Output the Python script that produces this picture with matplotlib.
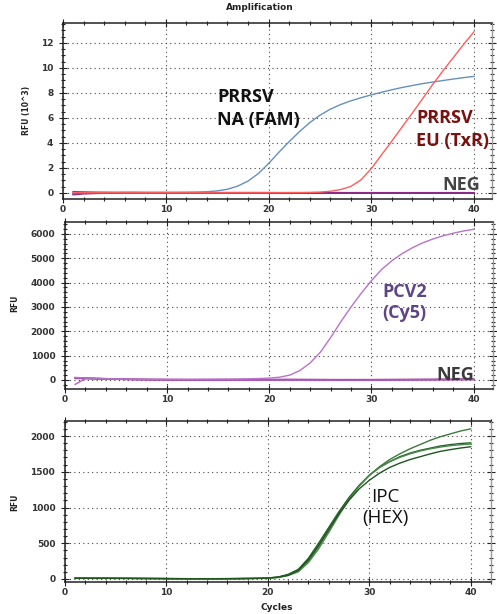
import numpy as np
import matplotlib
matplotlib.use("Agg")
import matplotlib.pyplot as plt
from matplotlib.ticker import MultipleLocator

#-----------------------------------------------
# data
#-----------------------------------------------

cycles = list(range(1, 41))

# panel 1, RFU in units of 10^3
fam = [0.05, 0.05, 0.05, 0.05, 0.05, 0.05, 0.05, 0.05, 0.05, 0.05,
       0.05, 0.06, 0.07, 0.10, 0.17, 0.30, 0.55, 0.95, 1.55, 2.35,
       3.25, 4.10, 4.90, 5.62, 6.22, 6.70, 7.07, 7.37, 7.62, 7.85,
       8.06, 8.26, 8.44, 8.60, 8.75, 8.88, 9.00, 9.12, 9.23, 9.33]
txr = [0.02, 0.02, 0.02, 0.02, 0.02, 0.02, 0.02, 0.02, 0.02, 0.02,
       0.02, 0.02, 0.02, 0.02, 0.02, 0.02, 0.02, 0.02, 0.02, 0.02,
       0.02, 0.03, 0.03, 0.04, 0.07, 0.14, 0.27, 0.52, 1.05, 1.95,
       3.05, 4.15, 5.28, 6.40, 7.55, 8.70, 9.80, 10.85, 11.9, 12.9]
neg1_a = [-0.12, -0.05, -0.02, 0.00, 0.00, 0.01, 0.01, 0.01, 0.01, 0.01,
          0.01, 0.01, 0.01, 0.01, 0.01, 0.01, 0.01, 0.01, 0.01, 0.01,
          0.00, 0.00, 0.00, 0.00, 0.00, 0.00, 0.00, 0.00, 0.00, 0.00,
          0.00, 0.00, 0.00, 0.00, 0.00, 0.00, 0.00, 0.00, 0.00, 0.00]
neg1_b = [0.10, 0.07, 0.05, 0.04, 0.03, 0.03, 0.03, 0.02, 0.02, 0.02,
          0.02, 0.02, 0.02, 0.02, 0.02, 0.02, 0.02, 0.02, 0.02, 0.02,
          0.02, 0.02, 0.02, 0.02, 0.02, 0.02, 0.02, 0.02, 0.02, 0.02,
          0.02, 0.02, 0.02, 0.02, 0.02, 0.02, 0.02, 0.02, 0.02, 0.02]
neg1_c = [0.02, 0.00, -0.01, -0.01, -0.02, -0.02, -0.02, -0.02, -0.02, -0.02,
          -0.02, -0.02, -0.02, -0.02, -0.02, -0.02, -0.02, -0.02, -0.02, -0.03,
          -0.03, -0.03, -0.02, -0.02, -0.02, -0.02, -0.02, -0.02, -0.02, -0.02,
          -0.02, -0.02, -0.02, -0.02, -0.02, -0.02, -0.02, -0.02, -0.02, -0.02]

# panel 2, RFU
pcv2 = [100, 90, 70, 55, 45, 40, 35, 30, 30, 28,
        28, 28, 30, 32, 35, 38, 42, 50, 60, 78,
        115, 200, 390, 700, 1140, 1740, 2390, 3000, 3560, 4080,
        4540, 4900, 5190, 5430, 5630, 5790, 5920, 6030, 6120, 6190]
neg2_a = [-180, 60, 50, 40, 32, 26, 22, 18, 15, 12,
          10, 8, 6, 5, 4, 3, 2, 2, 1, 0,
          0, 0, 0, 0, 0, 0, 0, 0, 0, 0,
          0, 2, 4, 5, 6, 8, 10, 12, 14, 15]
neg2_b = [90, 80, 62, 48, 38, 30, 24, 20, 16, 14,
          12, 10, 10, 10, 10, 10, 12, 12, 14, 15,
          16, 16, 15, 14, 12, 10, 10, 10, 10, 10,
          12, 14, 16, 18, 20, 22, 24, 26, 28, 30]
neg2_c = [60, 55, 45, 36, 28, 22, 18, 14, 12, 10,
          8, 6, 5, 4, 4, 4, 5, 6, 8, 10,
          12, 14, 14, 12, 10, 8, 6, 5, 5, 5,
          6, 8, 10, 12, 14, 16, 18, 20, 22, 24]

# panel 3, RFU, four IPC replicates
hex_a = [15, 14, 13, 12, 11, 10, 9, 8, 7, 6,
         5, 4, 4, 4, 4, 5, 6, 8, 10, 15,
         25, 55, 115, 250, 450, 680, 910, 1120, 1300, 1450,
         1570, 1670, 1750, 1820, 1880, 1940, 1990, 2030, 2070, 2100]
hex_b = [12, 12, 11, 10, 10, 9, 8, 7, 6, 5,
         4, 3, 3, 3, 3, 4, 5, 7, 9, 14,
         28, 65, 135, 290, 500, 720, 940, 1140, 1310, 1450,
         1560, 1640, 1710, 1760, 1800, 1830, 1860, 1880, 1895, 1905]
hex_c = [18, 16, 15, 14, 12, 11, 10, 9, 8, 7,
         6, 5, 5, 5, 5, 6, 7, 8, 10, 13,
         20, 48, 100, 230, 420, 650, 890, 1110, 1300, 1450,
         1560, 1640, 1700, 1750, 1790, 1820, 1845, 1865, 1878, 1887]
hex_d = [10, 10, 9, 9, 8, 8, 7, 6, 6, 5,
         4, 4, 3, 3, 3, 4, 5, 6, 8, 12,
         24, 52, 120, 270, 470, 690, 910, 1100, 1260, 1380,
         1480, 1560, 1620, 1670, 1710, 1750, 1785, 1810, 1832, 1850]

#-----------------------------------------------

W, H = 497, 614
fig = plt.figure(figsize=(W / 100.0, H / 100.0), dpi=100)

def make_axes(box, xlim, ylim, ymajor, yminor):
  # box in pixels: left, right, top, bottom
  l, r, t, b = box
  ax = fig.add_axes([l / W, 1 - b / H, (r - l) / W, (b - t) / H])
  ax.set_xlim(*xlim)
  ax.set_ylim(*ylim)
  ax.xaxis.set_major_locator(MultipleLocator(10))
  ax.xaxis.set_minor_locator(MultipleLocator(2))
  ax.yaxis.set_major_locator(MultipleLocator(ymajor))
  ax.yaxis.set_minor_locator(MultipleLocator(yminor))
  ax.tick_params(which='both', direction='inout', top=True, right=True,
                 width=0.8, colors='#222')
  ax.tick_params(which='major', length=6)
  ax.tick_params(which='minor', length=3.5)
  ax.tick_params(axis='x', pad=1.5)
  ax.tick_params(axis='y', pad=4)
  for lab in ax.get_xticklabels() + ax.get_yticklabels():
    lab.set_fontsize(6.5)
    lab.set_fontweight('bold')
    lab.set_color('#333')
  ax.grid(True, which='major', color='#444', linestyle=(0, (1, 3)), linewidth=0.8)
  for s in ['left', 'bottom', 'top']:
    ax.spines[s].set_color('#222')
    ax.spines[s].set_linewidth(1.1)
  ax.spines['right'].set_color('#999')
  ax.spines['right'].set_linewidth(1.0)
  return ax

big = dict(family='Open Sans', fontsize=13, fontweight='bold')

#-----------------------------------------------
# panel 1
ax1 = make_axes((63, 492, 23, 199), (0, 41.75), (-0.48, 13.6), 2, 0.5)
ax1.plot(cycles, neg1_b, color='#3b3b9e', lw=1.2)
ax1.plot(cycles, neg1_c, color='#c060c8', lw=1.0)
ax1.plot(cycles, neg1_a, color='#8a2a8a', lw=1.4)
ax1.plot(cycles, fam, color='#6590bd', lw=1.0)
ax1.plot(cycles, txr, color='#ff5c5c', lw=1.0)
ax1.text(15.0, 7.28, 'PRRSV', color='#111', **big)
ax1.text(15.0, 5.44, 'NA (FAM)', color='#111', **big)
ax1.text(34.4, 5.6, 'PRRSV', color='#7b1010', **big)
ax1.text(34.4, 3.76, 'EU (TxR)', color='#7b1010', **big)
ax1.text(36.9, 0.24, 'NEG', color='#444', **big)
fig.text(260 / W, 1 - 8 / H, 'Amplification', ha='center', va='center',
         fontsize=6.5, fontweight='bold', color='#222')
fig.text(27 / W, 1 - 110 / H, 'RFU (10^3)', rotation=90, ha='center', va='center',
         fontsize=5.5, fontweight='bold', color='#222')

#-----------------------------------------------
# panel 2
ax2 = make_axes((65, 493, 222, 389), (0, 41.9), (-370, 6490), 1000, 200)
ax2.plot(cycles, neg2_b, color='#8a1f8a', lw=1.3)
ax2.plot(cycles, neg2_c, color='#a040a8', lw=1.0)
ax2.plot(cycles, neg2_a, color='#b060c0', lw=1.0)
ax2.plot(cycles, pcv2, color='#b873c9', lw=1.0)
ax2.text(31.1, 3411, 'PCV2', color='#5e4585', **big)
ax2.text(31.1, 2548, '(Cy5)', color='#5e4585', **big)
ax2.text(36.4, 0, 'NEG', color='#3a3a3a', **big)
fig.text(15 / W, 1 - 303 / H, 'RFU', rotation=90, ha='center', va='center',
         fontsize=5.5, fontweight='bold', color='#222')

#-----------------------------------------------
# panel 3
ax3 = make_axes((65, 491, 421, 582), (0, 42.0), (-42, 2210), 500, 100)
ax3.plot(cycles, hex_a, color='#3d7a3d', lw=1.0)
ax3.plot(cycles, hex_b, color='#255e25', lw=1.0)
ax3.plot(cycles, hex_c, color='#4a8a4a', lw=1.0)
ax3.plot(cycles, hex_d, color='#1e561e', lw=1.0)
ax3.text(31.6, 1076, 'IPC', color='#111', ha='center', family='Open Sans', fontsize=13.5)
ax3.text(31.6, 783, '(HEX)', color='#111', ha='center', family='Open Sans', fontsize=13.5)
fig.text(277 / W, 1 - 607 / H, 'Cycles', ha='center', va='center',
         fontsize=6.5, fontweight='bold', color='#222')
fig.text(15 / W, 1 - 502 / H, 'RFU', rotation=90, ha='center', va='center',
         fontsize=5.5, fontweight='bold', color='#222')

fig.savefig('out.png', dpi=100)
